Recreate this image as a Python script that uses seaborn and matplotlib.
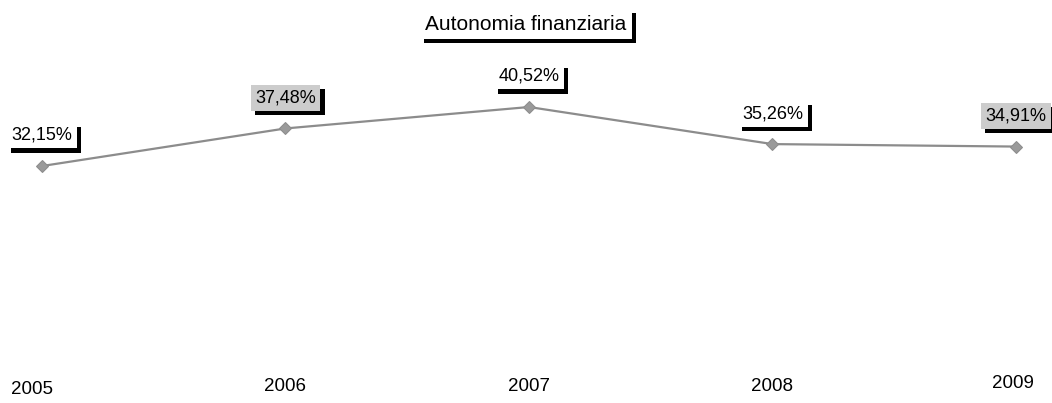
import matplotlib
matplotlib.use("Agg")
import matplotlib.pyplot as plt
import matplotlib.patheffects as pe
import matplotlib.transforms as mtransforms
import seaborn as sns
import pandas as pd

years = [2005, 2006, 2007, 2008, 2009]
values = [32.15, 37.48, 40.52, 35.26, 34.91]
labels = ["32,15%", "37,48%", "40,52%", "35,26%", "34,91%"]
label_bg = ["white", "#cccccc", "white", "white", "#cccccc"]
title = "Autonomia finanziaria"

sns.set_style("white")
plt.rcParams['font.family'] = ['Liberation Sans', 'DejaVu Sans']

df = pd.DataFrame({"year": years, "value": values})

fig = plt.figure(figsize=(10.52, 4.03), dpi=100)
ax = fig.add_axes([0, 35 / 403, 1, 368 / 403])

sns.lineplot(data=df, x="year", y="value", ax=ax, color="#8c8c8c",
             linewidth=1.6, marker="D", markersize=6.5,
             markeredgecolor="#8c8c8c", markerfacecolor="#9a9a9a")

px_per_year = (1016 - 42) / 4
ax.set_xlim(2005 - 42 / px_per_year, 2009 + 36 / px_per_year)
ax.set_ylim(3.5, 55.7)

shadow = [pe.SimplePatchShadow(offset=(3, -3), shadow_rgbFace="black", alpha=1.0), pe.Normal()]

for x, y, lab, bg in zip(years, values, labels, label_bg):
    t = ax.annotate(lab, xy=(x, y), xytext=(0, 22), textcoords="offset points",
                    ha="center", va="center", fontsize=13, color="black",
                    bbox=dict(boxstyle="square,pad=0.25", fc=bg, ec="none"))
    t.get_bbox_patch().set_path_effects(shadow)

tt = fig.text(0.5, 1 - 24 / 403, title, ha="center", va="center", fontsize=15,
              color="black", bbox=dict(boxstyle="square,pad=0.25", fc="white", ec="none"))
tt.get_bbox_patch().set_path_effects(shadow)

ax.set_xticks(years)
ax.set_xticklabels([str(y) for y in years], fontsize=13.5, color="black")
ax.tick_params(axis="x", length=0, pad=7, labelcolor="black")
tls = ax.get_xticklabels()
tls[0].set_transform(tls[0].get_transform() +
                     mtransforms.ScaledTranslation(-10 / 100, -3 / 100, fig.dpi_scale_trans))
tls[-1].set_transform(tls[-1].get_transform() +
                      mtransforms.ScaledTranslation(-3 / 100, 3 / 100, fig.dpi_scale_trans))
ax.set_yticks([])
ax.set_xlabel("")
ax.set_ylabel("")
for s in ax.spines.values():
    s.set_visible(False)

fig.savefig("out.png", dpi=100, facecolor="white")
